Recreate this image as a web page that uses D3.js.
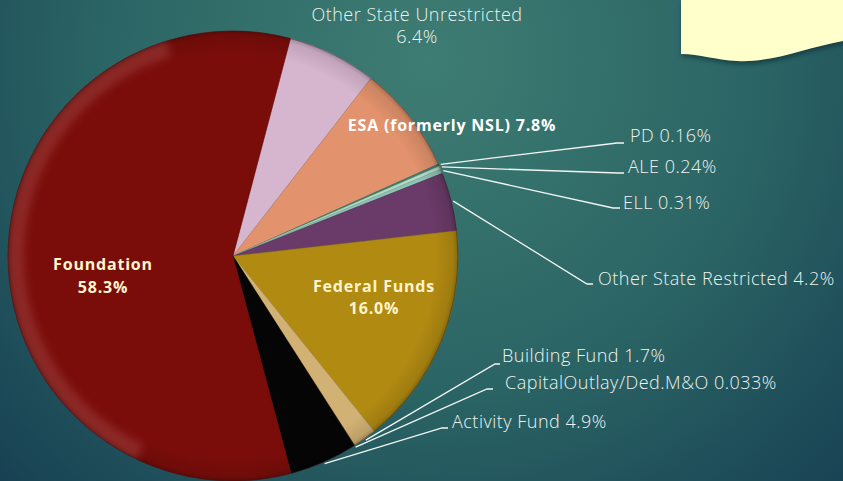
<!DOCTYPE html>
<html>
<head>
<meta charset="utf-8">
<script src="https://cdn.jsdelivr.net/npm/d3@7"></script>
<style>
  html, body { margin: 0; padding: 0; overflow: hidden; }
  svg { display: block; }
  text { font-family: "Open Sans", "DejaVu Sans", sans-serif; }
</style>
</head>
<body>
<div class="container"></div>
<script>
// slices, clockwise from the top
const labels = ['Other State Unrestricted', 'ESA (formerly NSL)', 'PD', 'ALE', 'ELL',
  'Other State Restricted', 'Federal Funds', 'Building Fund', 'CapitalOutlay/Ded.M&O',
  'Activity Fund', 'Foundation']
const values = [6.4, 7.8, 0.16, 0.24, 0.31, 4.2, 16.0, 1.7, 0.033, 4.9, 58.3]
const valueText = ['6.4%', '7.8%', '0.16%', '0.24%', '0.31%', '4.2%', '16.0%', '1.7%', '0.033%', '4.9%', '58.3%']
const colors = ['#d6b5cf', '#e2926c', '#3f806c', '#b4dcc8', '#8fc2b2', '#6a3a68',
  '#b18a12', '#d2b274', '#8a7040', '#050505', '#7a0d0a']

function PieChart() {
  const W = 843
  const H = 481
  const CX = 233
  const CY = 256
  const R = 225
  const START = 14.8 * Math.PI / 180

  const svg = d3.select('.container')
    .append('svg')
    .attr('width', W)
    .attr('height', H)

  const defs = svg.append('defs')

  const bg = defs.append('radialGradient')
    .attr('id', 'bg')
    .attr('gradientUnits', 'userSpaceOnUse')
    .attr('cx', 430).attr('cy', 60).attr('r', 620)
  bg.append('stop').attr('offset', '0%').attr('stop-color', '#3e7d73')
  bg.append('stop').attr('offset', '55%').attr('stop-color', '#2a6364')
  bg.append('stop').attr('offset', '100%').attr('stop-color', '#163f52')

  const rim = defs.append('radialGradient')
    .attr('id', 'rim')
    .attr('gradientUnits', 'userSpaceOnUse')
    .attr('cx', CX).attr('cy', CY).attr('r', R)
  rim.append('stop').attr('offset', '0%').attr('stop-color', '#000').attr('stop-opacity', 0)
  rim.append('stop').attr('offset', '90%').attr('stop-color', '#000').attr('stop-opacity', 0)
  rim.append('stop').attr('offset', '98%').attr('stop-color', '#000').attr('stop-opacity', 0.1)
  rim.append('stop').attr('offset', '100%').attr('stop-color', '#000').attr('stop-opacity', 0.25)

  defs.append('filter').attr('id', 'blur')
    .attr('x', '-20%').attr('y', '-20%').attr('width', '140%').attr('height', '140%')
    .append('feGaussianBlur').attr('stdDeviation', 4)
  defs.append('filter').attr('id', 'shadow')
    .append('feGaussianBlur').attr('stdDeviation', 2)
  defs.append('clipPath').attr('id', 'pieClip')
    .append('circle').attr('cx', 0).attr('cy', 0).attr('r', R)

  svg.append('rect')
    .attr('width', W)
    .attr('height', H)
    .attr('fill', 'url(#bg)')

  // note shape, top right
  const note = 'M681,0 L843,0 L843,41 C805,48 772,63 737,61 C715,60 700,54 681,54 Z'
  svg.append('path')
    .attr('d', note)
    .attr('transform', 'translate(1,3)')
    .attr('fill', '#0c2a30')
    .attr('opacity', 0.6)
    .attr('filter', 'url(#shadow)')
  svg.append('path')
    .attr('d', note)
    .attr('fill', '#ffffcc')

  const pie = d3.pie()
    .sort(null)
    .value(d => d)
    .startAngle(START)
    .endAngle(START + 2 * Math.PI)

  const arcs = pie(values)
  const arc = d3.arc().innerRadius(0).outerRadius(R)

  const g = svg.append('g')
    .attr('transform', `translate(${CX},${CY})`)

  g.selectAll('path.slice')
    .data(arcs)
    .enter()
    .append('path')
    .attr('class', 'slice')
    .attr('d', arc)
    .attr('fill', (d, i) => colors[i])
    .attr('stroke', (d, i) => d3.color(colors[i]).darker(0.4))
    .attr('stroke-width', 0.5)

  // bevel: soft light band along the upper left rim, darker edge all round
  g.append('g')
    .attr('clip-path', 'url(#pieClip)')
    .append('path')
    .attr('d', d3.arc().innerRadius(R - 16).outerRadius(R + 4)
      .startAngle(-2.7).endAngle(-0.3)())
    .attr('fill', '#ff9a9a')
    .attr('opacity', 0.22)
    .attr('filter', 'url(#blur)')
  svg.append('circle')
    .attr('cx', CX).attr('cy', CY).attr('r', R)
    .attr('fill', 'url(#rim)')
    .attr('stroke', '#3a1a18')
    .attr('stroke-opacity', 0.35)
    .attr('stroke-width', 1)

  // labels inside / above the pie
  const inner = [
    { i: 0, x: 417, y: [21, 43], lines: [labels[0], valueText[0]], bold: false, fill: '#eef3f0' },
    { i: 1, x: 452, y: [131], lines: [labels[1] + ' ' + valueText[1]], bold: true, fill: '#ffffff' },
    { i: 6, x: 374, y: [292, 314], lines: [labels[6], valueText[6]], bold: true, fill: '#fff5cc' },
    { i: 10, x: 103, y: [270, 293], lines: [labels[10], valueText[10]], bold: true, fill: '#fff5cc' },
  ]
  inner.forEach(l => {
    l.lines.forEach((t, k) => {
      svg.append('text')
        .attr('x', l.x)
        .attr('y', l.y[k])
        .attr('text-anchor', 'middle')
        .attr('font-size', l.bold ? '16px' : '18px')
        .attr('font-weight', l.bold ? 700 : 300)
        .attr('letter-spacing', l.bold ? '0.8px' : '0.5px')
        .attr('fill', l.fill)
        .text(t)
    })
  })

  // outside labels with leader lines
  const outer = [
    { i: 2, ex: 617, ey: 143, hx: 624, tx: 630, ty: 142 },
    { i: 3, ex: 618, ey: 173, hx: 624, tx: 628, ty: 173 },
    { i: 4, ex: 613, ey: 208, hx: 620, tx: 623, ty: 209 },
    { i: 5, ex: 587, ey: 284, hx: 593, tx: 598, ty: 285 },
    { i: 7, ex: 495, ey: 364, hx: 500, tx: 502, ty: 362 },
    { i: 8, ex: 487, ey: 389, hx: 493, tx: 505, ty: 389 },
    { i: 9, ex: 442, ey: 428, hx: 448, tx: 452, ty: 428 },
  ]
  outer.forEach(l => {
    const a = arcs[l.i]
    const mid = (a.startAngle + a.endAngle) / 2
    const sx = CX + (R + 2) * Math.sin(mid)
    const sy = CY - (R + 2) * Math.cos(mid)
    svg.append('polyline')
      .attr('points', `${sx},${sy} ${l.ex},${l.ey} ${l.hx},${l.ey}`)
      .attr('fill', 'none')
      .attr('stroke', '#f2f5f2')
      .attr('stroke-width', 1.3)
    svg.append('text')
      .attr('x', l.tx)
      .attr('y', l.ty)
      .attr('font-size', '18px')
      .attr('font-weight', 300)
      .attr('letter-spacing', '0.5px')
      .attr('fill', '#eef3f0')
      .text(`${labels[l.i]} ${valueText[l.i]}`)
  })
}

PieChart()
</script>
</body>
</html>
